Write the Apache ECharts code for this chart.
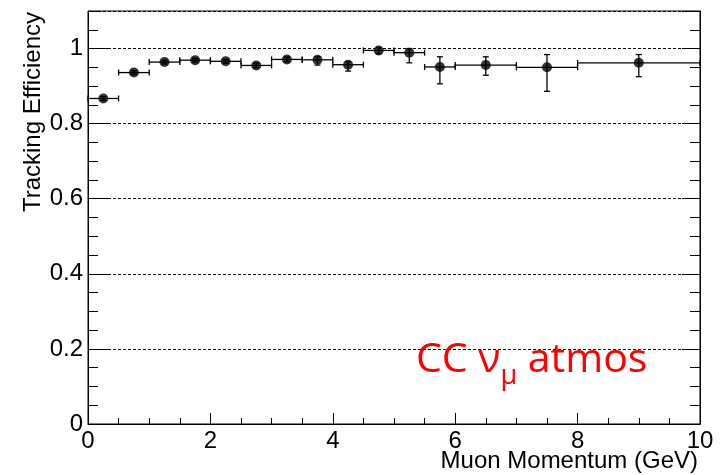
<!DOCTYPE html>
<html>
<head>
<meta charset="utf-8">
<script src="https://cdn.jsdelivr.net/npm/echarts@6/dist/echarts.min.js"></script>
<style>
  html, body { margin: 0; padding: 0; background: #fff; }
  #main { width: 720px; height: 475px; }
</style>
</head>
<body>
<div id="main"></div>
<script>
// bins in muon momentum (GeV)
var binLow  = [0, 0.5, 1, 1.5, 2, 2.5, 3, 3.5, 4, 4.5, 5, 5.5, 6, 7, 8];
var binHigh = [0.5, 1, 1.5, 2, 2.5, 3, 3.5, 4, 4.5, 5, 5.5, 6, 7, 8, 10];
var binCenter = [0.25, 0.75, 1.25, 1.75, 2.25, 2.75, 3.25, 3.75, 4.25, 4.75, 5.25, 5.75, 6.5, 7.5, 9];
// tracking efficiency and its errors
var eff     = [0.867, 0.936, 0.964, 0.969, 0.966, 0.955, 0.971, 0.970, 0.957, 0.995, 0.989, 0.951, 0.956, 0.950, 0.962];
var errLow  = [0.005, 0.005, 0.005, 0.005, 0.005, 0.006, 0.006, 0.014, 0.017, 0.009, 0.027, 0.045, 0.027, 0.064, 0.037];
var errHigh = [0.005, 0.005, 0.005, 0.005, 0.005, 0.006, 0.006, 0.008, 0.008, 0.008, 0.011, 0.027, 0.022, 0.034, 0.022];

var xTicks = [0, 2, 4, 6, 8, 10];
var yTicks = [0, 0.2, 0.4, 0.6, 0.8, 1];

var myChart = echarts.init(document.getElementById('main'));

var points = [];
for (var i = 0; i < eff.length; i++) {
  points.push([binCenter[i], eff[i], binLow[i], binHigh[i], eff[i] - errLow[i], eff[i] + errHigh[i]]);
}

var renderErr = function(params, api) {
  var c = api.coord([api.value(0), api.value(1)]);
  var l = api.coord([api.value(2), api.value(1)]);
  var r = api.coord([api.value(3), api.value(1)]);
  var lo = api.coord([api.value(0), api.value(4)]);
  var hi = api.coord([api.value(0), api.value(5)]);
  var st = { stroke: '#000', lineWidth: 1.3 };
  var cap = 3;
  return {
    type: 'group',
    children: [
      { type: 'line', shape: { x1: l[0], y1: c[1], x2: r[0], y2: c[1] }, style: st },
      { type: 'line', shape: { x1: l[0], y1: c[1] - cap, x2: l[0], y2: c[1] + cap }, style: st },
      { type: 'line', shape: { x1: r[0], y1: c[1] - cap, x2: r[0], y2: c[1] + cap }, style: st },
      { type: 'line', shape: { x1: c[0], y1: lo[1], x2: c[0], y2: hi[1] }, style: st },
      { type: 'line', shape: { x1: c[0] - cap, y1: lo[1], x2: c[0] + cap, y2: lo[1] }, style: st },
      { type: 'line', shape: { x1: c[0] - cap, y1: hi[1], x2: c[0] + cap, y2: hi[1] }, style: st }
    ]
  };
};

var font = 'Liberation Sans, Arial, sans-serif';
var lineBlack = { show: true, lineStyle: { color: '#000', width: 1 } };

var option = {
  animation: false,
  grid: { left: 88, right: 20, top: 11, bottom: 51, show: true, borderColor: '#000', borderWidth: 1 },
  xAxis: {
    type: 'value', min: 0, max: 10, interval: 2,
    axisLine: lineBlack,
    axisTick: { inside: true, length: 11, lineStyle: { color: '#000', width: 1 } },
    minorTick: { show: true, splitNumber: 4, length: 6, lineStyle: { color: '#000', width: 1 } },
    axisLabel: {
      color: '#000', fontSize: 24, fontFamily: font, margin: 5,
      formatter: function(v) { return xTicks.indexOf(v) >= 0 ? String(v) : ''; }
    },
    splitLine: { show: false }
  },
  yAxis: [
    {
      type: 'value', min: 0, max: 1.1, interval: 0.2, position: 'left',
      axisLine: lineBlack,
      axisTick: { inside: true, length: 20, lineStyle: { color: '#000', width: 1 } },
      axisLabel: {
        color: '#000', fontSize: 24, fontFamily: font, margin: 5, showMaxLabel: false,
        formatter: function(v) { return yTicks.indexOf(Math.round(v * 10) / 10) >= 0 ? String(Math.round(v * 10) / 10) : ''; }
      },
      splitLine: { show: true, lineStyle: { color: '#000', width: 1, type: [3, 2] } }
    },
    {
      type: 'value', min: 0, max: 1.1, interval: 0.05, position: 'left',
      axisLine: { show: false },
      axisTick: { inside: true, length: 10, lineStyle: { color: '#000', width: 1 } },
      axisLabel: { show: false },
      splitLine: { show: false }
    },
    {
      type: 'value', min: 0, max: 1.1, interval: 0.2, position: 'right',
      axisLine: lineBlack,
      axisTick: { inside: true, length: 18, lineStyle: { color: '#000', width: 1 } },
      axisLabel: { show: false },
      splitLine: { show: false }
    },
    {
      type: 'value', min: 0, max: 1.1, interval: 0.05, position: 'right',
      axisLine: { show: false },
      axisTick: { inside: true, length: 10, lineStyle: { color: '#000', width: 1 } },
      axisLabel: { show: false },
      splitLine: { show: false }
    }
  ],
  graphic: [
    {
      type: 'text', x: 33, y: 12, rotation: Math.PI / 2,
      style: { text: 'Tracking Efficiency', fill: '#000', font: '24px ' + font, align: 'right', verticalAlign: 'middle' }
    },
    {
      type: 'text', x: 698, y: 461,
      style: { text: 'Muon Momentum (GeV)', fill: '#000', font: '24px ' + font, align: 'right', verticalAlign: 'middle' }
    },
    {
      type: 'text', x: 416, y: 340,
      style: {
        text: '{n|CC ν}{s|μ}{n| atmos}',
        align: 'left', verticalAlign: 'top',
        rich: {
          n: { fontSize: 41, fontFamily: 'Open Sans', fill: '#ff0000', lineHeight: 50, verticalAlign: 'top' },
          s: { fontSize: 27, fontFamily: 'Open Sans', fill: '#ff0000', lineHeight: 50, verticalAlign: 'bottom' }
        }
      }
    }
  ],
  series: [
    {
      type: 'custom',
      renderItem: renderErr,
      data: points,
      encode: { x: 0, y: 1 },
      z: 2
    },
    {
      type: 'scatter',
      data: points.map(function(p) { return [p[0], p[1]]; }),
      symbol: 'circle', symbolSize: 10,
      itemStyle: { color: '#000' },
      z: 3
    }
  ]
};
myChart.setOption(option);
</script>
</body>
</html>
